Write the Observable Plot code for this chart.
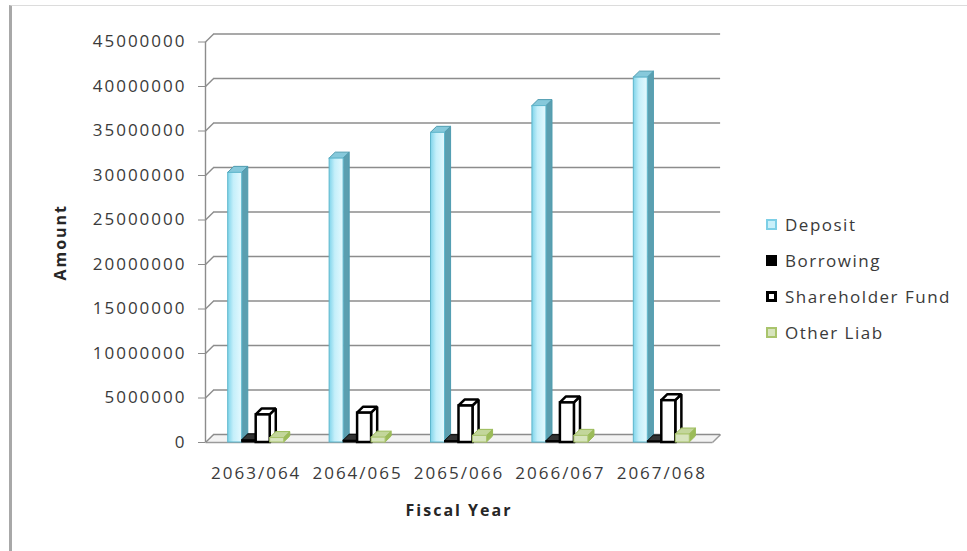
<!DOCTYPE html>
<html>
<head>
<meta charset="utf-8">
<script src="https://cdn.jsdelivr.net/npm/d3@7"></script>
<script src="https://cdn.jsdelivr.net/npm/@observablehq/plot@0.6"></script>
<style>
  body { margin: 0; background: #fff; }
  #wrap { position: relative; width: 967px; height: 551px; overflow: hidden; background: #fff; }
  #frame { position: absolute; left: 9px; top: 5px; right: -10px; bottom: -10px;
           border-left: 3px solid #a8a8a8; border-top: 1px solid #dcdcdc; }
  #chart { position: absolute; left: 0; top: 0; }
  #legend { position: absolute; left: 766px; top: 206px; font-family: "Open Sans", sans-serif;
            font-size: 17px; letter-spacing: 1.5px; color: #3a3a3a; }
  .item { display: flex; align-items: center; height: 36px; }
  .swatch { box-sizing: border-box; width: 11px; height: 11px; margin-right: 8px; }
</style>
</head>
<body>
<div id="wrap">
  <div id="frame"></div>
  <div id="chart"></div>
  <div id="legend"></div>
</div>
<script>
// Fiscal years and liability components (NPR)
const years = ["2063/064", "2064/065", "2065/066", "2066/067", "2067/068"];
const series = ["Deposit", "Borrowing", "Shareholder Fund", "Other Liab"];
const deposit = [30300000, 31900000, 34800000, 37800000, 41000000];
const borrowing = [250000, 200000, 150000, 150000, 120000];
const shareholderFund = [3100000, 3300000, 4100000, 4450000, 4700000];
const otherLiab = [500000, 550000, 750000, 750000, 900000];
const yTicks = [0, 5000000, 10000000, 15000000, 20000000, 25000000, 30000000, 35000000, 40000000, 45000000];

// Layout of the pseudo-3D columns (in scale units)
const BW = 0.138;                 // column width within a year band
const GROUP_START = 0.5 - 2 * BW; // first column of each cluster
const BAR_DX = 0.06, BAR_DY = 670000;   // column depth
const WALL_DX = 0.08, WALL_DY = 900000; // wall/floor depth

const valuesBySeries = [deposit, borrowing, shareholderFund, otherLiab];
const looks = [
  {front: "url(#depositFace)", frontStroke: "#5db6cc", side: "#5b9fb0", top: "#86c9db", edge: "#4f9cb0", sw: 1},
  {front: "#000000", frontStroke: "#000000", side: "#111111", top: "#333333", edge: "#000000", sw: 1},
  {front: "#ffffff", frontStroke: "#000000", side: "#ffffff", top: "#ffffff", edge: "#000000", sw: 2.5},
  {front: "#d7e4bd", frontStroke: "#a9c46c", side: "#9bbb59", top: "#c3d69b", edge: "#9bbb59", sw: 1}
];
const swatches = [
  {bg: "#c9f0fa", border: "2px solid #7dcfe6"},
  {bg: "#000000", border: "2px solid #000000"},
  {bg: "#ffffff", border: "3px solid #000000"},
  {bg: "#d7e4bd", border: "2px solid #a9c46c"}
];

const bars = series.flatMap((name, s) => years.map((year, i) => {
  const x1 = i + GROUP_START + s * BW;
  return {id: `${s}-${i}`, s, year, v: valuesBySeries[s][i], x1, x2: x1 + BW};
}));
const sideRows = bars.flatMap(b => [
  {id: b.id, s: b.s, x: b.x2, y1: 0, y2: b.v},
  {id: b.id, s: b.s, x: b.x2 + BAR_DX, y1: BAR_DY, y2: b.v + BAR_DY}
]);
const topRows = bars.flatMap(b => [
  {id: b.id, s: b.s, y: b.v, x1: b.x1, x2: b.x2},
  {id: b.id, s: b.s, y: b.v + BAR_DY, x1: b.x1 + BAR_DX, x2: b.x2 + BAR_DX}
]);
const floorRows = [
  {y: 0, x1: 0, x2: years.length},
  {y: WALL_DY, x1: WALL_DX, x2: years.length + WALL_DX}
];

const columnMarks = series.flatMap((name, s) => {
  const L = looks[s];
  return [
    Plot.areaY(sideRows.filter(d => d.s === s), {x: "x", y1: "y1", y2: "y2", z: "id",
      fill: L.side, stroke: L.edge, strokeWidth: L.sw, strokeLinejoin: "miter"}),
    Plot.areaX(topRows.filter(d => d.s === s), {y: "y", x1: "x1", x2: "x2", z: "id",
      fill: L.top, stroke: L.edge, strokeWidth: L.sw, strokeLinejoin: "miter"}),
    Plot.rect(bars.filter(d => d.s === s), {x1: "x1", x2: "x2", y1: 0, y2: "v",
      fill: L.front, stroke: L.frontStroke, strokeWidth: L.sw, strokeLinejoin: "miter"})
  ];
});

const chart = Plot.plot({
  width: 967,
  height: 551,
  marginLeft: 205,
  marginRight: 255,
  marginTop: 41.5,
  marginBottom: 109,
  style: {fontFamily: "Open Sans, sans-serif", fontSize: "17px", letterSpacing: "2px", color: "#3a3a3a", background: "transparent"},
  x: {type: "linear", domain: [0, years.length]},
  y: {type: "linear", domain: [0, 45000000]},
  marks: [
    // floor
    Plot.areaX(floorRows, {y: "y", x1: "x1", x2: "x2", fill: "#f3f3f3"}),
    Plot.link([0], {x1: 0, y1: 0, x2: years.length, y2: 0, stroke: "#9a9a9a", strokeWidth: 1.5}),
    Plot.link([0], {x1: years.length, y1: 0, x2: years.length + WALL_DX, y2: WALL_DY, stroke: "#9a9a9a", strokeWidth: 1.5}),
    // back-wall gridlines and left-wall slants
    Plot.ruleY(yTicks, {y: d => d + WALL_DY, x1: WALL_DX, x2: years.length + WALL_DX, stroke: "#8c8c8c", strokeWidth: 1.6}),
    Plot.link(yTicks, {x1: 0, y1: d => d, x2: WALL_DX, y2: d => d + WALL_DY, stroke: "#8c8c8c", strokeWidth: 1.4}),
    Plot.ruleX([0], {y1: 0, y2: 45000000, stroke: "#8c8c8c", strokeWidth: 1.4}),
    Plot.axisY({ticks: yTicks, tickFormat: d3.format("d"), tickSize: 7, tickPadding: 12,
      stroke: "#8c8c8c", fill: "#3a3a3a", label: null}),
    Plot.axisX({ticks: d3.range(years.length).map(i => i + 0.5), tickFormat: d => years[Math.floor(d)],
      tickSize: 0, tickPadding: 24, fill: "#3a3a3a", label: null}),
    ...columnMarks,
    Plot.text(["Amount"], {frameAnchor: "left", textAnchor: "middle", dx: -145, rotate: -90,
      fontWeight: "bold", fontSize: 16, fill: "#262626", text: d => d, letterSpacing: "1px"}),
    Plot.text(["Fiscal Year"], {frameAnchor: "bottom", textAnchor: "middle", dy: 73,
      fontWeight: "bold", fontSize: 16, fill: "#262626", text: d => d, letterSpacing: "1px"})
  ]
});

// gradient used for the deposit column faces
const defs = d3.select(chart).insert("defs", ":first-child");
const grad = defs.append("linearGradient").attr("id", "depositFace")
  .attr("x1", 0).attr("x2", 1).attr("y1", 0).attr("y2", 0);
grad.append("stop").attr("offset", "0%").attr("stop-color", "#7fd4ea");
grad.append("stop").attr("offset", "40%").attr("stop-color", "#c4effa");
grad.append("stop").attr("offset", "100%").attr("stop-color", "#e4f9fe");

document.getElementById("chart").appendChild(chart);

// legend
const legend = document.getElementById("legend");
series.forEach((name, s) => {
  const item = document.createElement("div");
  item.className = "item";
  const sw = document.createElement("span");
  sw.className = "swatch";
  sw.style.background = swatches[s].bg;
  sw.style.border = swatches[s].border;
  const label = document.createElement("span");
  label.textContent = name;
  item.appendChild(sw);
  item.appendChild(label);
  legend.appendChild(item);
});
</script>
</body>
</html>
